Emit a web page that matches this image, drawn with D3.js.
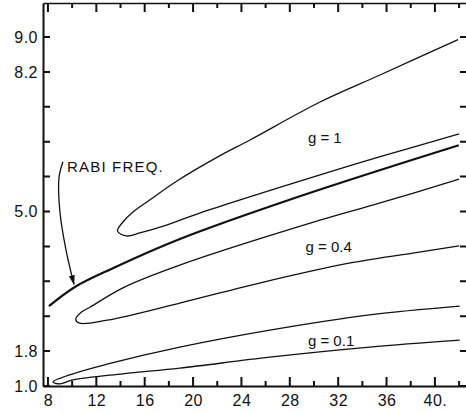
<!DOCTYPE html>
<html>
<head>
<meta charset="utf-8">
<script src="https://cdn.jsdelivr.net/npm/d3@7"></script>
<style>
  body { margin: 0; background: #fff; }
  svg { display: block; }
  .axis path { stroke: #111; }
  .axis text { font-family: "Liberation Sans", Arial, sans-serif; font-size: 16px; fill: #111; letter-spacing: 0.5px; }
  .ticks { fill: none; stroke: #111; stroke-width: 2; }
  .curve { fill: none; stroke: #111; stroke-width: 1.3; }
  .rabi { fill: none; stroke: #111; stroke-width: 2.2; }
  .lbl { font-family: "Liberation Sans", Arial, sans-serif; font-size: 15px; fill: #111; }
</style>
</head>
<body>
<div id="chart"></div>
<script>
// axis ticks
var xMajor = [8, 12, 16, 20, 24, 28, 32, 36, 40];
var xMajorLabels = ["8", "12", "16", "20", "24", "28", "32", "36", "40."];
var xMinor = [10, 14, 18, 22, 26, 30, 34, 38, 42];
var yTicks = [1.0, 1.8, 2.6, 3.4, 4.2, 5.0, 5.8, 6.6, 7.4, 8.2, 9.0];
var yLabelled = [1.0, 1.8, 5.0, 8.2, 9.0];

// curves: [x, y]
// each g curve goes from the lower branch end, round the nose, out along the upper branch
var g1Curve = [[42.0,6.78],[35.4,6.25],[30.5,5.84],[20.6,4.97],[17.8,4.69],[15.6,4.51],[14.5,4.44],
  [13.75,4.55],[14.2,4.76],[15.03,4.99],[16.44,5.27],[18.67,5.70],[22.23,6.28],[24.71,6.64],
  [30.5,7.51],[35.46,8.13],[41.91,8.94]];
var g04Curve = [[42.0,4.21],[38.7,4.07],[33.0,3.82],[25.5,3.36],[18.9,2.90],[12.9,2.51],[10.6,2.44],
  [10.3,2.53],[10.8,2.70],[11.5,2.81],[14.2,3.25],[18.9,3.77],[30.5,4.80],[35.4,5.19],[42.0,5.74]];
var g01Curve = [[42.05,2.05],[34.6,1.89],[26.35,1.66],[18.9,1.41],[14.2,1.28],[10.07,1.14],[8.99,1.05],
  [8.41,1.09],[10.07,1.28],[12.88,1.50],[18.9,1.89],[26.35,2.28],[34.6,2.63],[42.05,2.83]];
var rabiCurve = [[8.08,2.83],[10.23,3.27],[13.37,3.70],[18.91,4.37],[28.83,5.35],[41.97,6.52]];

// arrow from the RABI FREQ. label down to the thick line
var rabiArrow = [[9.24,6.14],[8.91,5.77],[8.99,4.99],[9.49,4.12],[10.15,3.33]];

var curveLabels = [
  {text: "g = 1", x: 29.5, y: 6.57},
  {text: "g = 0.4", x: 29.3, y: 4.07},
  {text: "g = 0.1", x: 29.5, y: 1.92},
  {text: "RABI FREQ.", x: 9.57, y: 5.91}
];

var chartWidth = 466, chartHeight = 413;
var margin = {top: 3, right: 0, bottom: 27, left: 43}
  , width = chartWidth - margin.left - margin.right
  , height = chartHeight - margin.top - margin.bottom;

var xScale = d3.scaleLinear().domain([7.59, 42.57]).range([0, width]);
var yScale = d3.scaleLinear().domain([1.0, 9.78]).range([height, 0]);

var svg = d3.select("#chart").append("svg")
    .attr("width", chartWidth)
    .attr("height", chartHeight)
  .append("g")
    .attr("transform", "translate(" + margin.left + "," + margin.top + ")");

svg.append("defs").append("marker")
    .attr("id", "head")
    .attr("markerUnits", "userSpaceOnUse")
    .attr("viewBox", "0 -4 10 8")
    .attr("refX", 9).attr("refY", 0)
    .attr("markerWidth", 10).attr("markerHeight", 8)
    .attr("orient", "auto")
  .append("path")
    .attr("d", "M0,-3L10,0L0,3Z")
    .attr("fill", "#111");

// axes carry the frame lines and labels
svg.append("g")
    .attr("class", "axis")
    .attr("transform", "translate(0," + height + ")")
    .call(d3.axisBottom(xScale).tickValues(xMajor).tickSize(0).tickPadding(9)
      .tickFormat(function(d, i) { return xMajorLabels[i]; }))
    .call(function(g) { g.select(".domain").attr("stroke-width", 2); });

svg.append("g")
    .attr("class", "axis")
    .call(d3.axisTop(xScale).tickValues([]).tickSize(0))
    .call(function(g) { g.select(".domain").attr("stroke-width", 1.6); });

svg.append("g")
    .attr("class", "axis")
    .call(d3.axisLeft(yScale).tickValues(yTicks).tickSize(0).tickPadding(5)
      .tickFormat(function(d) { return yLabelled.indexOf(d) >= 0 ? d3.format(".1f")(d) : ""; }))
    .call(function(g) { g.select(".domain").attr("stroke-width", 2); });

// inward tick marks: long at the labelled x values, short in between
var xTickData = xMajor.map(function(d) { return {v: d, len: 9}; })
  .concat(xMinor.map(function(d) { return {v: d, len: 5}; }));

function tickPath(items, fn) {
  var p = d3.path();
  items.forEach(function(d) { fn(p, d); });
  return p.toString();
}

svg.append("path")
    .attr("class", "ticks")
    .attr("d", tickPath(xTickData, function(p, d) {
      var x = xScale(d.v);
      p.moveTo(x, height); p.lineTo(x, height - d.len);
      p.moveTo(x, 0); p.lineTo(x, d.len);
    }));

svg.append("path")
    .attr("class", "ticks")
    .attr("d", tickPath(yTicks, function(p, d) {
      var y = yScale(d);
      p.moveTo(0, y); p.lineTo(7, y);
      p.moveTo(width - 6, y); p.lineTo(width, y);
    }));

var line = d3.line()
    .x(function(d) { return xScale(d[0]); })
    .y(function(d) { return yScale(d[1]); })
    .curve(d3.curveCatmullRom.alpha(0.5));

[g1Curve, g04Curve, g01Curve].forEach(function(c) {
  svg.append("path").datum(c).attr("class", "curve").attr("d", line);
});
svg.append("path").datum(rabiCurve).attr("class", "rabi").attr("d", line);

svg.append("path")
    .datum(rabiArrow)
    .attr("class", "curve")
    .attr("stroke-width", 1.1)
    .attr("marker-end", "url(#head)")
    .attr("d", line);

svg.selectAll("text.lbl")
    .data(curveLabels)
  .enter().append("text")
    .attr("class", "lbl")
    .attr("x", function(d) { return xScale(d.x); })
    .attr("y", function(d) { return yScale(d.y); })
    .style("letter-spacing", function(d) { return d.text.length > 8 ? "1.2px" : "0px"; })
    .text(function(d) { return d.text; });
</script>
</body>
</html>
